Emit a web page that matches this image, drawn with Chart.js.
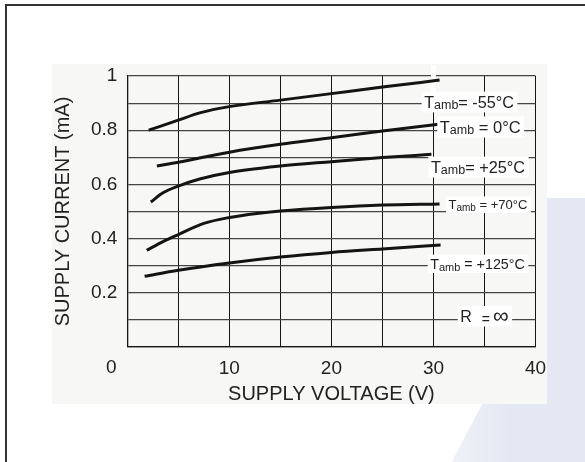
<!DOCTYPE html>
<html><head><meta charset="utf-8">
<script src="https://cdn.jsdelivr.net/npm/chart.js@4.4.1/dist/chart.umd.min.js"></script>
<style>
html,body{margin:0;padding:0;background:#fff;}
#wrap{position:relative;width:585px;height:462px;overflow:hidden;background:#fff;}
.frameTop{position:absolute;left:5px;top:4px;width:580px;height:2px;background:#333;}
.frameLeft{position:absolute;left:5px;top:4px;width:2px;height:458px;background:#333;}
.band{position:absolute;left:510px;top:198px;width:75px;height:264px;background:#e4e8f2;}
.diag{position:absolute;left:440px;top:340px;width:70px;height:122px;background:linear-gradient(90deg,#f1f3f8,#e4e8f2);clip-path:polygon(100% 9%,100% 100%,16.7% 100%);}
.panel{position:absolute;left:52px;top:64px;width:495px;height:340px;background:#f7f7f5;}
canvas{position:absolute;left:0;top:0;}
</style></head><body>
<div id="wrap">
 <div class="band"></div><div class="diag"></div><div class="panel"></div>
 <div class="frameTop"></div><div class="frameLeft"></div>
 <canvas id="c" width="585" height="462"></canvas>
</div>
<script>
// ---- data ----
const xTickLabels = ['0', '', '10', '', '20', '', '30', '', '40'];
const yTickLabels = ['', '', '0.2', '', '0.4', '', '0.6', '', '0.8', '', '1'];

const vM55  = [2.1, 5, 7.1, 10, 15, 20, 25, 30.6];
const iM55  = [0.800, 0.837, 0.864, 0.887, 0.911, 0.935, 0.959, 0.985];
const v0    = [2.9, 5, 10, 15, 20, 25, 30.5];
const i0    = [0.668, 0.682, 0.719, 0.748, 0.772, 0.797, 0.822];
const vP25  = [2.3, 3.5, 5, 7.1, 10, 15, 20, 25, 29.8];
const iP25  = [0.535, 0.569, 0.594, 0.620, 0.644, 0.668, 0.684, 0.699, 0.711];
const vP70  = [1.9, 3.5, 5, 7.5, 10, 12.7, 15, 20, 25, 30.6];
const iP70  = [0.357, 0.389, 0.415, 0.456, 0.478, 0.493, 0.502, 0.515, 0.524, 0.528];
const vP125 = [1.7, 5, 10, 15, 20, 25, 30.7];
const iP125 = [0.261, 0.283, 0.310, 0.332, 0.349, 0.362, 0.376];

const seriesNames = ['Tamb = -55°C', 'Tamb = 0°C', 'Tamb = +25°C', 'Tamb = +70°C', 'Tamb = +125°C'];
const seriesV = [vM55, v0, vP25, vP70, vP125];
const seriesI = [iM55, i0, iP25, iP70, iP125];

// curve annotations (anchored in data units)
const curveLabels = [
  {x: 29.09, y: 0.904, runs: [{t: 'T', s: 16.2}, {t: 'amb', s: 12.5, dy: 1.5}, {t: '= -55°C', s: 16.2}]},
  {x: 30.62, y: 0.812, runs: [{t: 'T', s: 16.5}, {t: 'amb', s: 12.5, dy: 1.5}, {t: ' = 0°C', s: 16.5}]},
  {x: 29.75, y: 0.664, runs: [{t: 'T', s: 16.3}, {t: 'amb', s: 12.5, dy: 1.5}, {t: '= +25°C', s: 16.3}]},
  {x: 31.47, y: 0.525, runs: [{t: 'T', s: 13}, {t: 'amb', s: 10, dy: 1.5}, {t: ' = +70°C', s: 13}]},
  {x: 29.68, y: 0.307, runs: [{t: 'T', s: 14.3}, {t: 'amb', s: 11, dy: 2}, {t: ' = +125°C', s: 14.3}]},
  {x: 32.62, y: 0.1135, runs: [{t: 'R', s: 16}, {t: '=', s: 14, dx: 10, dy: 2}, {t: '∞', s: 22, dx: 3, dy: 1}]}
];

const FONT = "'Liberation Sans', Arial, Helvetica, sans-serif";

const datasets = seriesNames.map((name, k) => ({
  label: name,
  data: seriesV[k].map((v, j) => ({x: v, y: seriesI[k][j]})),
  borderColor: '#141414',
  borderWidth: 3,
  pointRadius: 0,
  fill: false,
  cubicInterpolationMode: 'monotone'
}));

const annotPlugin = {
  id: 'annot',
  beforeDatasetsDraw(chart) {
    const ctx = chart.ctx, xs = chart.scales.x, ys = chart.scales.y;
    ctx.save();
    // white gap over the 30 V grid line near the top
    const gx = xs.getPixelForValue(30);
    const gy1 = ys.getPixelForValue(1.04), gy2 = ys.getPixelForValue(0.93);
    ctx.fillStyle = '#ffffff';
    ctx.fillRect(gx - 2.5, gy1, 5, gy2 - gy1);
    ctx.restore();
  },
  afterDatasetsDraw(chart) {
    const ctx = chart.ctx, xs = chart.scales.x, ys = chart.scales.y;
    ctx.save();
    curveLabels.forEach(lb => {
      const left = xs.getPixelForValue(lb.x);
      const cy = ys.getPixelForValue(lb.y);
      const main = lb.runs[0].s;
      let w = 0;
      const placed = lb.runs.map(r => {
        ctx.font = r.s + 'px ' + FONT;
        w += (r.dx || 0);
        const p = {r, x: left + w};
        w += ctx.measureText(r.t).width;
        return p;
      });
      const hh = main * 0.64;
      ctx.fillStyle = '#ffffff';
      ctx.fillRect(left - 2.5, cy - hh, w + 6, hh * 2);
      const base = cy + main * 0.716 / 2;
      ctx.fillStyle = '#222';
      ctx.textBaseline = 'alphabetic';
      ctx.textAlign = 'left';
      placed.forEach(p => {
        ctx.font = p.r.s + 'px ' + FONT;
        ctx.fillText(p.r.t, p.x, base + (p.r.dy || 0));
      });
    });
    ctx.restore();
  },
  afterDraw(chart) {
    const ctx = chart.ctx, xs = chart.scales.x;
    ctx.save();
    ctx.font = '19px ' + FONT;
    ctx.fillStyle = '#222';
    ctx.textAlign = 'center';
    ctx.textBaseline = 'middle';
    ctx.fillText(xTickLabels[0], xs.getPixelForValue(0) - 16, xs.top + 21);
    ctx.restore();
  }
};

new Chart(document.getElementById('c'), {
  type: 'line',
  data: {datasets},
  options: {
    responsive: false,
    animation: false,
    devicePixelRatio: 1,
    layout: {padding: {left: 0, right: 49.5, top: 76, bottom: 0}},
    plugins: {legend: {display: false}, tooltip: {enabled: false}},
    scales: {
      x: {
        type: 'linear', min: 0, max: 40,
        afterFit: s => { s.height = 115; },
        ticks: {stepSize: 5, autoSkip: false, maxRotation: 0, padding: 10, color: '#222',
          font: {size: 19, family: FONT},
          callback: (v, i) => (i === 0 ? '' : xTickLabels[i])},
        grid: {color: '#151515', lineWidth: 1, drawTicks: false},
        border: {color: '#151515', width: 1.3},
        title: {display: true, text: 'SUPPLY VOLTAGE (V)', color: '#222',
          font: {size: 20, family: FONT}, padding: {top: 0, bottom: 55.5}}
      },
      y: {
        type: 'linear', min: 0, max: 1,
        afterFit: s => { s.width = 127.3; },
        ticks: {stepSize: 0.1, autoSkip: false, padding: 10, color: '#222',
          font: {size: 19, family: FONT},
          callback: (v, i) => yTickLabels[i]},
        grid: {color: '#444', lineWidth: 1.2, drawTicks: false},
        border: {color: '#151515', width: 1.3},
        title: {display: true, text: 'SUPPLY CURRENT (mA)', color: '#222',
          font: {size: 20, family: FONT}, padding: {top: 51, bottom: 0}}
      }
    }
  },
  plugins: [annotPlugin]
});
</script>
</body></html>
